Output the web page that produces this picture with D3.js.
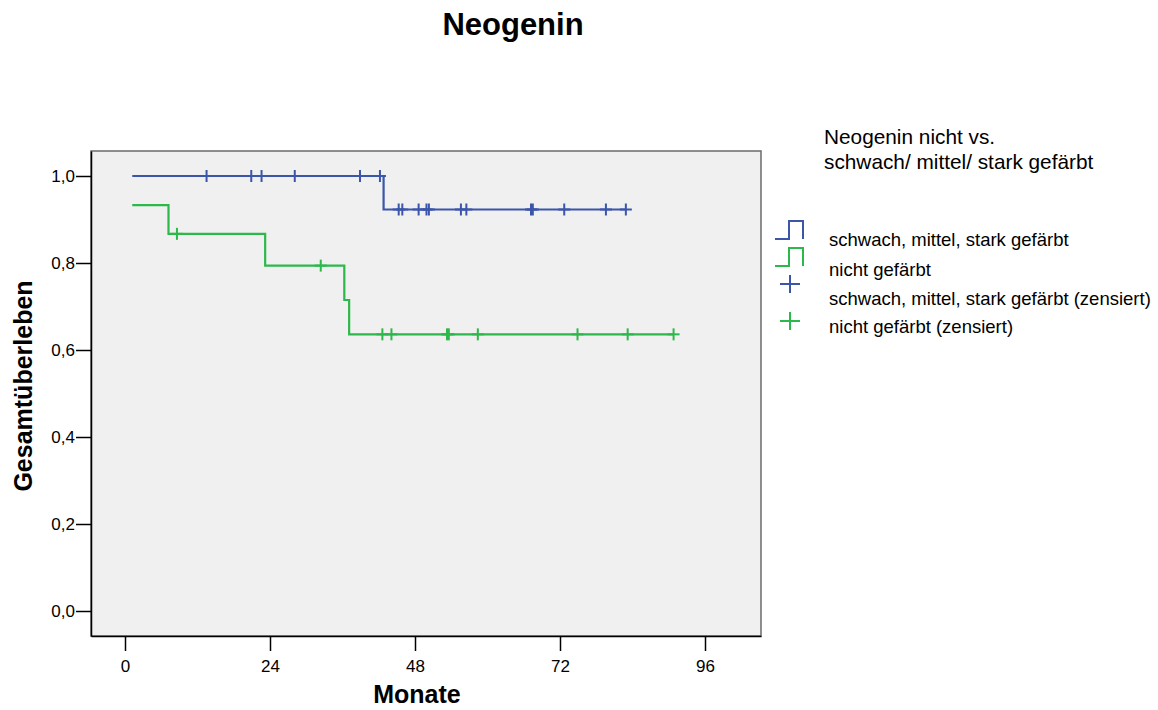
<!DOCTYPE html>
<html>
<head>
<meta charset="utf-8">
<script src="https://cdn.jsdelivr.net/npm/d3@7"></script>
<style>
  body { margin: 0; background: #fff; }
  text { font-family: Arial, "Liberation Sans", sans-serif; }
</style>
</head>
<body>
<div id="chart"></div>
<script>
// x ticks (Monate) and y ticks (Gesamtüberleben)
const xTicks = [0, 24, 48, 72, 96]
const yTicks = [0, 0.2, 0.4, 0.6, 0.8, 1.0]

// schwach, mittel, stark gefärbt: step times / survival after step
const blueTimes = [1.2, 42.8]
const blueSurv = [1.0, 0.923]
const blueEnd = 82.9
const blueCensored = [13.5, 20.9, 22.6, 28.1, 38.9, 42.2, 45.3, 45.9, 48.6, 49.9, 50.3,
  55.6, 56.5, 67.2, 67.5, 72.7, 79.6, 82.9]

// nicht gefärbt
const greenTimes = [1.2, 7.2, 23.2, 36.3, 37.1]
const greenSurv = [0.933, 0.867, 0.794, 0.715, 0.636]
const greenEnd = 90.8
const greenCensored = [8.6, 32.4, 42.6, 44.1, 53.3, 53.6, 58.4, 74.9, 83.2, 90.8]

const legendLabels = ["schwach, mittel, stark gefärbt", "nicht gefärbt",
  "schwach, mittel, stark gefärbt (zensiert)", "nicht gefärbt (zensiert)"]

const cfg = {
  w: 1158,
  h: 710,
  left: 91,
  right: 761,
  top: 151,
  bottom: 636,
  blue: "#3B55A9",
  green: "#2DB84B"
}

const svg = d3.select("#chart")
  .append("svg")
  .attr("width", cfg.w)
  .attr("height", cfg.h)

// 0 sits at x=125, 96 at x=705; 1,0 at y=176, 0,0 at y=611
const pxPerMonth = (705 - 125) / 96
const x = d3.scaleLinear()
  .domain([-(125 - cfg.left) / pxPerMonth, (cfg.right - 125) / pxPerMonth])
  .range([cfg.left, cfg.right])
const y = d3.scaleLinear()
  .domain([-(cfg.bottom - 611) / 435, 1 + (176 - cfg.top) / 435])
  .range([cfg.bottom, cfg.top])

// title
svg.append("text")
  .attr("x", 513)
  .attr("y", 35)
  .attr("text-anchor", "middle")
  .style("font-size", "31px")
  .style("font-weight", "bold")
  .text("Neogenin")

// plot background
svg.append("rect")
  .attr("x", cfg.left)
  .attr("y", cfg.top)
  .attr("width", cfg.right - cfg.left)
  .attr("height", cfg.bottom - cfg.top)
  .style("fill", "#F0F0F0")
  .style("stroke", "#6b6b6b")
  .style("stroke-width", "1.5px")

// axes
const xAxis = svg.append("g")
  .attr("transform", "translate(0," + cfg.bottom + ")")
  .call(d3.axisBottom(x).tickValues(xTicks).tickSize(15).tickPadding(9).tickSizeOuter(0))
const yAxis = svg.append("g")
  .attr("transform", "translate(" + cfg.left + ",0)")
  .call(d3.axisLeft(y).tickValues(yTicks).tickSize(15).tickPadding(1).tickSizeOuter(0)
    .tickFormat(d => d3.format(".1f")(d).replace(".", ",")))

for (const ax of [xAxis, yAxis]) {
  ax.attr("font-size", 17).attr("font-family", "Arial, 'Liberation Sans', sans-serif")
  ax.select(".domain").style("stroke", "#000").style("stroke-width", "1.5px")
  ax.selectAll(".tick line").style("stroke", "#000").style("stroke-width", "1.5px")
  ax.selectAll(".tick text").style("fill", "#000")
}

svg.append("text")
  .attr("x", 417)
  .attr("y", 703)
  .attr("text-anchor", "middle")
  .style("font-size", "25px")
  .style("font-weight", "bold")
  .text("Monate")

svg.append("text")
  .attr("transform", "translate(32,386) rotate(-90)")
  .attr("text-anchor", "middle")
  .style("font-size", "25px")
  .style("font-weight", "bold")
  .text("Gesamtüberleben")

// survival curves
function stepPoints(times, surv, end) {
  let pts = times.map((t, i) => [t, surv[i]])
  pts.push([end, surv[surv.length - 1]])
  return pts
}
function survAt(times, surv, t) {
  let v = surv[0]
  times.forEach((tt, i) => { if (tt <= t) v = surv[i] })
  return v
}

const line = d3.line()
  .x(d => x(d[0]))
  .y(d => y(d[1]))
  .curve(d3.curveStepAfter)

const series = [
  { times: blueTimes, surv: blueSurv, end: blueEnd, cens: blueCensored, color: cfg.blue },
  { times: greenTimes, surv: greenSurv, end: greenEnd, cens: greenCensored, color: cfg.green }
]

series.forEach(function (s) {
  svg.append("path")
    .datum(stepPoints(s.times, s.surv, s.end))
    .attr("d", line)
    .style("fill", "none")
    .style("stroke", s.color)
    .style("stroke-width", "2.2px")

  const marks = svg.append("g").selectAll("g")
    .data(s.cens)
    .enter()
    .append("g")
    .attr("transform", d => "translate(" + x(d) + "," + y(survAt(s.times, s.surv, d)) + ")")
  marks.append("line")
    .attr("x1", 0).attr("x2", 0).attr("y1", -6).attr("y2", 6)
    .style("stroke", s.color).style("stroke-width", "2px")
  marks.append("line")
    .attr("x1", -6).attr("x2", 6).attr("y1", 0).attr("y2", 0)
    .style("stroke", s.color).style("stroke-width", "2px")
})

// legend
const legend = svg.append("g")
legend.append("text")
  .attr("x", 824)
  .attr("y", 144)
  .style("font-size", "20.8px")
  .text("Neogenin nicht vs.")
legend.append("text")
  .attr("x", 824)
  .attr("y", 169)
  .style("font-size", "20.8px")
  .text("schwach/ mittel/ stark gefärbt")

const legendY = [246, 276, 305, 333]
legend.selectAll(".item")
  .data(legendLabels)
  .enter()
  .append("text")
  .attr("class", "item")
  .attr("x", 829)
  .attr("y", (d, i) => legendY[i])
  .style("font-size", "18.5px")
  .text(d => d)

// step symbols
const stepColors = [cfg.blue, cfg.green]
const stepBottom = [239, 266]
stepColors.forEach(function (c, i) {
  const b = stepBottom[i]
  legend.append("path")
    .attr("d", "M775," + b + "H789V" + (b - 18) + "H803V" + b)
    .style("fill", "none")
    .style("stroke", c)
    .style("stroke-width", "2px")
})
// plus symbols
const plusY = [284, 321]
stepColors.forEach(function (c, i) {
  legend.append("path")
    .attr("d", "M780," + plusY[i] + "H800M790," + (plusY[i] - 9) + "V" + (plusY[i] + 9))
    .style("fill", "none")
    .style("stroke", c)
    .style("stroke-width", "2px")
})
</script>
</body>
</html>
